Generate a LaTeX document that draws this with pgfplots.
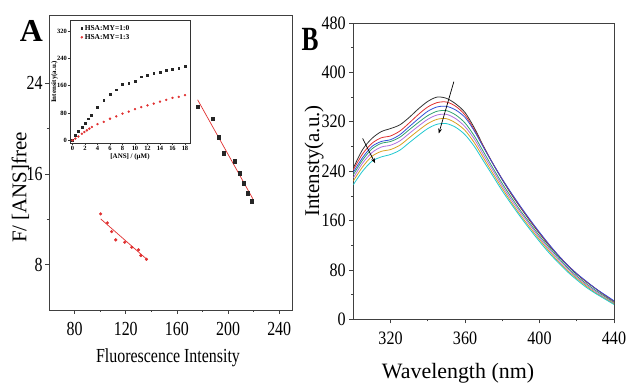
\documentclass[border=0pt]{standalone}
\usepackage{fontspec}
\setmainfont{Liberation Serif}
\newfontfamily\sqA[FakeStretch=0.8]{Liberation Serif}
\newfontfamily\sqB[FakeStretch=0.85]{Liberation Serif}
\newfontfamily\sqL[FakeStretch=0.75]{Liberation Serif}
\usepackage{pgfplots}
\usepackage{pgfplotstable}
\pgfplotsset{compat=1.18}
\usetikzlibrary{arrows.meta}
\definecolor{cB}{HTML}{3050D8}
\definecolor{cG}{HTML}{30A070}
\definecolor{cV}{HTML}{B070E0}
\definecolor{cO}{HTML}{D8A020}
\definecolor{cC}{HTML}{20C8D0}
\definecolor{cR}{HTML}{E03030}

\pgfplotstableread{
nm  k   r   b   g   v   o   c
300 245 242 238 234 229 224 218
305 275 268 262 258 253 247 240
310 293 285 280 276 270 264 256
315 304 294 288 285 279 272 263
320 309 297 291 288 282 275 267
325 315 305 299 295 289 282 274
330 327 318 312 307 301 294 286
335 341 332 325 319 313 306 298
340 353 344 337 330 324 317 309
345 360 351 344 337 331 324 316
350 358 352 345 338 332 325 317
355 349 345 339 331 325 318 311
360 335 331 327 318 312 306 299
365 310 307 305 297 292 286 280
370 280 279 278 271 266 261 256
375 252 252 252 245 241 236 232
380 226 227 227 220 216 212 208
385 202 203 204 197 193 189 186
390 180 181 182 175 172 168 165
395 159 160 161 155 152 148 145
400 139 140 141 135 132 129 126
405 120 121 122 117 114 111 108
410 103 104 104 100 97 94 92
415 87 88 88 84 82 79 77
420 73 74 74 70 68 66 64
425 61 61 62 58 56 54 52
430 50 50 50 47 45 43 42
435 39 39 40 37 35 34 33
440 29 29 30 27 26 25 24
}\spectra

\begin{document}
\begin{tikzpicture}
\path[use as bounding box] (0,0) rectangle (627bp,383bp);

% ---------------- Panel A main ----------------
\begin{axis}[at={(49bp,73bp)}, anchor=south west, scale only axis,
 width=243bp, height=295bp,
 xmin=60, xmax=250, ymin=4, ymax=30,
 xtick={80,120,160,200,240}, ytick={8,16,24},
 minor x tick num=1, minor y tick num=1,
 tick align=outside, tick pos=left,
 major tick length=4bp, minor tick length=2bp,
 axis line style={black!75, line width=0.7pt},
 every tick/.style={black!75, line width=0.6pt},
 tick label style={font=\sqA\fontsize{20}{22}\selectfont},
 /pgf/number format/assume math mode=true,
 xticklabel style={yshift=-5bp},
 yticklabel style={xshift=1bp},
]
\addplot[only marks, mark=square*, mark size=1.6pt, black!85] coordinates {
(176.2,21.94) (188.0,20.86) (192.4,19.23) (196.3,17.82) (205.3,17.12)
(208.9,16.06) (212.3,15.17) (215.5,14.29) (218.6,13.59)};
\addplot[cR, line width=0.7pt] coordinates {(176.2,22.53) (219.4,13.80)};
\addplot[only marks, mark=*, mark size=1.4pt, cR] coordinates {
(100.4,12.47) (105.6,11.68) (109.0,10.91) (112.2,10.18) (119.2,9.97)
(124.7,9.53) (130.0,9.30) (131.8,8.80) (136.2,8.47)};
\addplot[cR, line width=0.7pt] coordinates {(100.4,12.03) (137.0,8.42)};
\end{axis}

% ---------------- Panel A inset ----------------
\begin{axis}[at={(70bp,240bp)}, anchor=south west, scale only axis,
 width=120bp, height=122.3bp,
 xmin=-0.4, xmax=18.8, ymin=-8, ymax=350,
 xtick={0,2,...,18}, ytick={0,80,...,320},
 tick align=outside, tick pos=left, major tick length=2bp,
 axis line style={black!80, line width=0.6pt},
 every tick/.style={black!80, line width=0.5pt},
 tick label style={font=\bfseries\fontsize{6.5}{7}\selectfont, inner sep=1pt},
 /pgf/number format/assume math mode=true,
 xlabel={[ANS] / (μM)}, ylabel={Intensity(a.u.)},
 label style={font=\bfseries\fontsize{7}{8}\selectfont},
 xlabel style={yshift=1pt}, ylabel style={yshift=-5pt},
 legend style={at={(0.08,0.99)}, anchor=north west, draw=none, fill=none,
   font=\bfseries\fontsize{7.5}{8}\selectfont, row sep=-1.5pt, inner sep=1pt},
 legend cell align=left,
]
\addplot[only marks, mark=square*, mark size=0.9pt, black!85] coordinates {
(0,0) (0.45,15) (0.95,27) (1.5,39) (2,51) (2.5,63) (2.95,73)
(4,97) (5,117) (6,134) (7,148) (8,163) (9,168) (10,174) (11,186) (12,190)
(13,196) (14,200) (15,205) (16,208) (17,212) (18,216)};
\addlegendentry{HSA:MY=1:0}
\addplot[only marks, mark=*, mark size=1.0pt, cR] coordinates {
(0,0) (0.45,5) (0.95,11) (1.5,19) (1.9,24) (2.3,29) (2.7,34) (3.1,39)
(4,47) (5,54) (6,63) (7,70) (8,78) (9,84) (10,91) (11,97) (12,102)
(13,107) (14,113) (15,118) (16,124) (17,127) (18,132)};
\addlegendentry{HSA:MY=1:3}
\end{axis}

% ---------------- Panel B ----------------
\begin{axis}[at={(353.3bp,63.7bp)}, anchor=south west, scale only axis,
 width=260.7bp, height=296.3bp,
 xmin=300, xmax=440, ymin=0, ymax=480,
 xtick={320,360,400,440}, ytick={0,80,...,480},
 minor x tick num=1, minor y tick num=1,
 tick align=outside, tick pos=left,
 major tick length=4bp, minor tick length=2bp,
 axis line style={black!75, line width=0.7pt},
 every tick/.style={black!75, line width=0.6pt},
 tick label style={font=\sqB\fontsize{19}{20}\selectfont},
 /pgf/number format/assume math mode=true,
 xticklabel style={yshift=-5bp},
 every axis plot/.append style={line width=0.8pt, smooth, tension=0.5},
]
\addplot[black!80] table[x=nm, y=k] {\spectra};
\addplot[cR] table[x=nm, y=r] {\spectra};
\addplot[cB] table[x=nm, y=b] {\spectra};
\addplot[cG] table[x=nm, y=g] {\spectra};
\addplot[cV] table[x=nm, y=v] {\spectra};
\addplot[cO] table[x=nm, y=o] {\spectra};
\addplot[cC] table[x=nm, y=c] {\spectra};
\draw[-{Stealth[length=5pt]}, line width=0.7pt] (axis cs:305,293) -- (axis cs:311.7,253);
\draw[-{Stealth[length=5pt]}, line width=0.7pt] (axis cs:354,385) -- (axis cs:345.9,301);
\end{axis}

% ---------------- Labels ----------------
\node[font=\bfseries\fontsize{32}{32}\selectfont] at (31.5bp,352bp) {A};
\node[font=\sqL\bfseries\fontsize{34}{34}\selectfont] at (310bp,344bp) {B};
\node[font=\fontsize{21}{22}\selectfont, rotate=90] at (20.5bp,195.5bp) {F/ [ANS]free};
\node[font=\sqA\fontsize{20}{22}\selectfont] at (168bp,25bp) {Fluorescence Intensity};
\node[font=\fontsize{21}{22}\selectfont, rotate=90] at (314bp,222bp) {Intensty(a.u.)};
\node[font=\fontsize{22}{23}\selectfont] at (458bp,10bp) {Wavelength (nm)};
\end{tikzpicture}
\end{document}
